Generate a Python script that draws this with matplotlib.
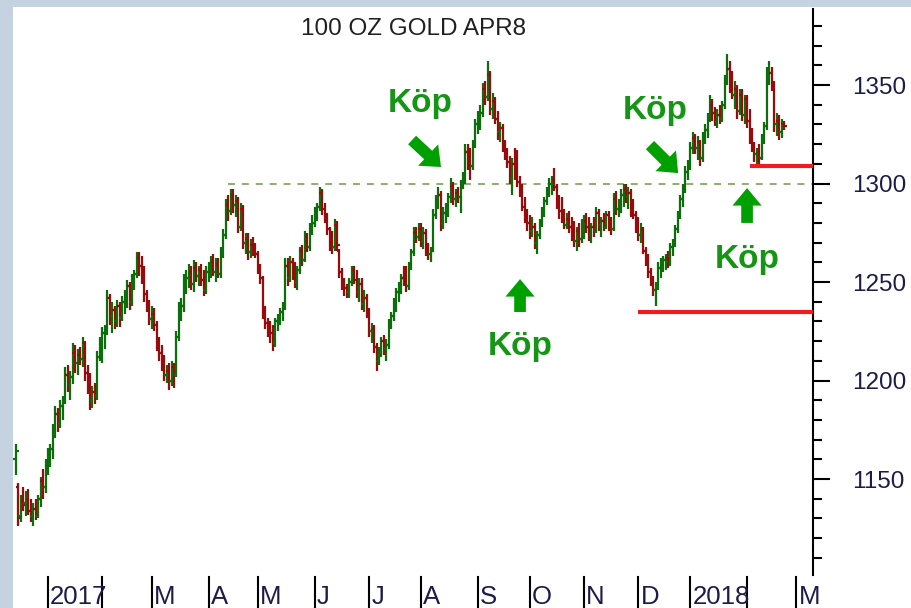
import numpy as np
import pandas as pd
import matplotlib
matplotlib.use("Agg")
import matplotlib.pyplot as plt
import matplotlib.transforms as mtransforms
from matplotlib.collections import LineCollection
from matplotlib.patches import Rectangle
from matplotlib.ticker import MultipleLocator

plt.rcParams["font.family"] = ["Liberation Sans", "DejaVu Sans"]
plt.rcParams["lines.scale_dashes"] = False

title = "100 OZ GOLD APR8"
first_day = "2016-12-14"
axis_last_day = "2018-03-01"

# daily bars, month by month (Dec 2016 .. Feb 2018)
opens = [
    1160, 1146, 1131, 1139, 1138, 1140, 1134, 1131, 1135, 1131, 1140, 1149, 1146,
    1158, 1163, 1165, 1175, 1183, 1178, 1187, 1189, 1203, 1198, 1202, 1214, 1209, 1213, 1211, 1219, 1204, 1198, 1190, 1194, 1192, 1212,
    1219, 1224, 1226, 1242, 1233, 1236, 1230, 1238, 1232, 1240, 1243, 1248, 1240, 1251, 1254, 1262, 1258, 1255, 1244, 1238,
    1231, 1234, 1228, 1218, 1214, 1209, 1203, 1205, 1200, 1207, 1203, 1222, 1236, 1238, 1250, 1252, 1255, 1249, 1257, 1253, 1256, 1251, 1246,
    1255, 1257, 1260, 1255, 1259, 1254, 1266, 1274, 1289, 1286, 1294, 1289, 1291, 1278, 1287, 1270, 1272, 1265, 1269, 1267,
    1264, 1256, 1252, 1234, 1229, 1226, 1224, 1219, 1230, 1231, 1235, 1238, 1258, 1252, 1260, 1255, 1250, 1256, 1266, 1261, 1273, 1268, 1278,
    1280, 1286, 1288, 1295, 1287, 1283, 1277, 1270, 1268, 1279, 1266, 1255, 1249, 1247, 1245, 1250, 1256, 1251, 1245, 1249, 1239, 1242,
    1235, 1225, 1226, 1217, 1210, 1213, 1220, 1216, 1218, 1229, 1233, 1240, 1245, 1248, 1252, 1251, 1248, 1258, 1265, 1275, 1273,
    1277, 1271, 1275, 1266, 1264, 1266, 1284, 1291, 1294, 1280, 1285, 1286, 1293, 1299, 1292, 1295, 1293, 1300, 1302, 1316, 1314, 1309, 1320,
    1330, 1334, 1336, 1348, 1344, 1355, 1338, 1342, 1333, 1326, 1328, 1319, 1316, 1311, 1303, 1310, 1306, 1301, 1297, 1288, 1283,
    1280, 1276, 1278, 1270, 1274, 1280, 1286, 1291, 1296, 1300, 1302, 1298, 1290, 1286, 1283, 1279, 1282, 1278, 1275, 1271, 1276, 1272,
    1279, 1281, 1278, 1274, 1278, 1276, 1285, 1279, 1281, 1278, 1284, 1280, 1277, 1292, 1287, 1290, 1294, 1297, 1293, 1295, 1286, 1284,
    1278, 1274, 1277, 1266, 1261, 1255, 1251, 1246, 1248, 1257, 1259, 1261, 1262, 1260, 1268, 1270, 1277, 1284, 1292, 1297, 1306,
    1309, 1318, 1323, 1318, 1321, 1313, 1324, 1327, 1333, 1340, 1336, 1331, 1335, 1333, 1340, 1352, 1358, 1349, 1345, 1348, 1337, 1345, 1335,
    1343, 1332, 1323, 1319, 1315, 1316, 1313, 1322, 1329, 1355, 1356, 1350, 1330, 1332, 1326, 1330,
]
highs = [
    1168, 1148, 1142, 1146, 1144, 1145, 1140, 1138, 1140, 1142, 1151, 1155, 1160,
    1166, 1168, 1178, 1187, 1186, 1190, 1192, 1207, 1208, 1205, 1219, 1218, 1216, 1217, 1222, 1220, 1208, 1204, 1197, 1199, 1215, 1222,
    1227, 1228, 1246, 1244, 1240, 1238, 1241, 1240, 1243, 1246, 1251, 1250, 1254, 1256, 1265, 1265, 1263, 1258, 1246, 1241,
    1238, 1237, 1230, 1222, 1218, 1213, 1208, 1209, 1210, 1209, 1225, 1240, 1242, 1254, 1256, 1259, 1258, 1261, 1260, 1258, 1259, 1256, 1258,
    1260, 1263, 1264, 1262, 1262, 1268, 1277, 1292, 1294, 1297, 1297, 1294, 1293, 1290, 1289, 1275, 1275, 1272, 1273, 1270,
    1266, 1259, 1253, 1238, 1232, 1230, 1228, 1232, 1234, 1237, 1240, 1262, 1262, 1263, 1262, 1260, 1258, 1268, 1269, 1276, 1275, 1280, 1284,
    1288, 1290, 1298, 1297, 1290, 1285, 1278, 1276, 1282, 1281, 1267, 1257, 1252, 1249, 1252, 1258, 1258, 1256, 1252, 1252, 1246, 1244,
    1237, 1229, 1228, 1219, 1217, 1222, 1223, 1221, 1231, 1235, 1242, 1247, 1250, 1254, 1258, 1258, 1260, 1267, 1278, 1278, 1280,
    1280, 1278, 1277, 1270, 1268, 1287, 1294, 1298, 1296, 1288, 1290, 1295, 1303, 1301, 1297, 1298, 1302, 1306, 1320, 1320, 1318, 1322, 1333,
    1337, 1340, 1351, 1352, 1362, 1357, 1346, 1344, 1337, 1331, 1330, 1322, 1318, 1314, 1313, 1318, 1317, 1304, 1300, 1293, 1287,
    1284, 1283, 1280, 1276, 1282, 1288, 1293, 1298, 1303, 1304, 1308, 1300, 1294, 1293, 1287, 1285, 1286, 1283, 1281, 1278, 1280, 1282,
    1284, 1285, 1283, 1280, 1283, 1288, 1287, 1283, 1285, 1286, 1286, 1283, 1295, 1296, 1292, 1297, 1300, 1300, 1298, 1297, 1292, 1286,
    1283, 1280, 1278, 1268, 1264, 1257, 1253, 1250, 1260, 1262, 1263, 1264, 1266, 1270, 1272, 1279, 1286, 1294, 1300, 1309, 1312,
    1321, 1326, 1325, 1324, 1322, 1326, 1330, 1336, 1345, 1343, 1339, 1338, 1340, 1342, 1355, 1366, 1362, 1357, 1352, 1350, 1348, 1348, 1345,
    1345, 1338, 1328, 1321, 1318, 1320, 1325, 1331, 1359, 1362, 1359, 1352, 1336, 1335, 1333, 1332,
]
lows = [
    1152, 1126, 1128, 1134, 1131, 1132, 1128, 1126, 1129, 1130, 1136, 1140, 1143,
    1152, 1156, 1160, 1171, 1174, 1176, 1180, 1188, 1194, 1190, 1198, 1204, 1203, 1208, 1207, 1200, 1193, 1185, 1186, 1188, 1190, 1210,
    1209, 1216, 1223, 1228, 1224, 1226, 1227, 1227, 1230, 1234, 1237, 1236, 1238, 1246, 1252, 1253, 1249, 1240, 1235, 1228,
    1226, 1225, 1215, 1210, 1205, 1200, 1199, 1195, 1197, 1196, 1202, 1220, 1230, 1235, 1244, 1247, 1246, 1245, 1250, 1248, 1248, 1243, 1244,
    1250, 1252, 1253, 1250, 1252, 1252, 1262, 1272, 1281, 1284, 1285, 1283, 1275, 1276, 1267, 1264, 1261, 1262, 1263, 1262,
    1254, 1249, 1231, 1226, 1222, 1219, 1215, 1217, 1225, 1228, 1230, 1236, 1248, 1250, 1251, 1247, 1246, 1254, 1258, 1260, 1265, 1266, 1274,
    1278, 1281, 1286, 1284, 1280, 1274, 1266, 1264, 1266, 1266, 1252, 1246, 1243, 1242, 1242, 1248, 1249, 1242, 1240, 1236, 1235, 1232,
    1222, 1219, 1214, 1205, 1208, 1212, 1213, 1210, 1216, 1226, 1230, 1235, 1240, 1244, 1248, 1245, 1246, 1256, 1263, 1270, 1271,
    1268, 1267, 1263, 1261, 1260, 1265, 1282, 1287, 1276, 1277, 1280, 1283, 1290, 1289, 1288, 1290, 1285, 1297, 1300, 1307, 1302, 1307, 1318,
    1325, 1327, 1334, 1340, 1342, 1335, 1333, 1330, 1322, 1321, 1316, 1312, 1308, 1300, 1294, 1302, 1298, 1293, 1286, 1280, 1276,
    1272, 1273, 1267, 1264, 1272, 1278, 1283, 1289, 1293, 1294, 1296, 1287, 1282, 1280, 1277, 1277, 1275, 1271, 1268, 1266, 1268, 1270,
    1272, 1275, 1271, 1270, 1273, 1275, 1276, 1273, 1276, 1277, 1276, 1274, 1276, 1284, 1283, 1285, 1288, 1290, 1287, 1283, 1282, 1275,
    1271, 1270, 1264, 1258, 1252, 1248, 1243, 1238, 1246, 1252, 1255, 1256, 1257, 1258, 1263, 1268, 1275, 1282, 1288, 1295, 1302,
    1307, 1315, 1315, 1312, 1309, 1311, 1320, 1323, 1331, 1332, 1329, 1328, 1330, 1331, 1338, 1350, 1346, 1343, 1338, 1333, 1335, 1332, 1330,
    1328, 1320, 1316, 1311, 1308, 1310, 1312, 1320, 1327, 1350, 1347, 1326, 1324, 1322, 1323, 1327,
]
closes = [
    1164, 1130, 1139, 1137, 1140, 1134, 1131, 1135, 1131, 1140, 1149, 1146, 1158,
    1163, 1165, 1175, 1183, 1178, 1187, 1189, 1203, 1198, 1202, 1214, 1209, 1213, 1211, 1219, 1204, 1198, 1190, 1194, 1192, 1212, 1219,
    1224, 1226, 1242, 1233, 1236, 1230, 1238, 1232, 1240, 1243, 1248, 1240, 1251, 1254, 1262, 1258, 1255, 1244, 1238, 1231,
    1234, 1228, 1218, 1214, 1209, 1203, 1205, 1200, 1207, 1203, 1222, 1236, 1238, 1250, 1252, 1255, 1249, 1257, 1253, 1256, 1251, 1246, 1255,
    1257, 1260, 1255, 1259, 1254, 1266, 1274, 1289, 1286, 1294, 1289, 1291, 1278, 1287, 1270, 1272, 1265, 1269, 1267, 1264,
    1256, 1252, 1234, 1229, 1226, 1224, 1219, 1230, 1231, 1235, 1238, 1258, 1252, 1260, 1255, 1250, 1256, 1266, 1261, 1273, 1268, 1278, 1280,
    1286, 1288, 1295, 1287, 1283, 1277, 1270, 1268, 1279, 1269, 1255, 1249, 1247, 1245, 1250, 1256, 1251, 1245, 1249, 1239, 1242, 1235,
    1225, 1226, 1217, 1210, 1213, 1220, 1216, 1218, 1229, 1233, 1240, 1245, 1248, 1252, 1251, 1248, 1258, 1265, 1275, 1273, 1277,
    1271, 1275, 1266, 1264, 1266, 1284, 1291, 1294, 1280, 1285, 1286, 1293, 1299, 1292, 1295, 1293, 1300, 1302, 1316, 1314, 1309, 1320, 1330,
    1334, 1336, 1348, 1344, 1355, 1338, 1342, 1333, 1326, 1328, 1319, 1316, 1311, 1303, 1310, 1306, 1301, 1297, 1288, 1283, 1280,
    1276, 1278, 1270, 1274, 1280, 1286, 1291, 1296, 1300, 1302, 1298, 1290, 1286, 1283, 1279, 1282, 1278, 1275, 1271, 1276, 1272, 1279,
    1281, 1278, 1274, 1278, 1276, 1285, 1279, 1281, 1278, 1284, 1280, 1277, 1292, 1287, 1290, 1294, 1297, 1293, 1295, 1286, 1284, 1278,
    1274, 1277, 1266, 1261, 1255, 1251, 1246, 1248, 1257, 1259, 1261, 1262, 1260, 1268, 1270, 1277, 1284, 1292, 1297, 1306, 1309,
    1318, 1323, 1318, 1321, 1313, 1324, 1327, 1333, 1340, 1336, 1331, 1335, 1333, 1340, 1352, 1358, 1349, 1345, 1348, 1337, 1345, 1335, 1343,
    1332, 1323, 1319, 1315, 1316, 1313, 1322, 1329, 1355, 1356, 1350, 1330, 1332, 1326, 1330, 1329,
]

month_labels = ["2017", "", "M", "A", "M", "J", "J", "A", "S", "O", "N", "D", "2018", "", "M"]

# horizontal marker lines: level, start day
support_level, support_from = 1300, "2017-04-13"
red_levels = [1235, 1309]
red_from = ["2017-12-01", "2018-02-02"]

# "Köp" signals: text centre and arrow (tail -> tip), as (bar index, price)
kop_text = [(163.6, 1340.4), (204.1, 1217.5), (258.7, 1337.3), (296.0, 1261.2)]
kop_tail = [(160.4, 1322.1), (204.1, 1234.8), (256.7, 1319.5), (296.0, 1280.0)]
kop_tip = [(172.1, 1308.4), (204.1, 1251.5), (268.1, 1305.3), (296.0, 1297.7)]

GREEN = "#0b6e0b"
RED = "#990b0b"
LABEL = "#1c1c48"

days = pd.bdate_range(first_day, axis_last_day)
n = len(closes)
idx = np.arange(n)
month_start = [i for i in range(1, len(days)) if days[i].month != days[i - 1].month]

fig = plt.figure(figsize=(9.12, 6.08), dpi=100, facecolor="#c5d2df")
fig.add_artist(Rectangle((13 / 912, 0), 1, 601 / 608, transform=fig.transFigure,
                         facecolor="white", edgecolor="none", zorder=-10))
ax = fig.add_axes([0.01425, 0.0543, 0.8772, 0.9309])
ax.set_facecolor("none")
x0, x1 = -1.17, 322.7
ax.set_xlim(x0, x1)
ax.set_ylim(1101.3, 1388.6)

# OHLC bars
segs, cols = [], []
for i in idx:
    o, h, l, c = opens[i], highs[i], lows[i], closes[i]
    col = GREEN if c >= o else RED
    segs += [[(i, l), (i, h)], [(i - 1.1, o), (i, o)], [(i, c), (i + 1.1, c)]]
    cols += [col] * 3
ax.add_collection(LineCollection(segs, colors=cols, linewidths=1.6, capstyle="butt", zorder=3))

# reference lines
s0 = days.get_loc(pd.Timestamp(support_from))
ax.plot([s0, x1], [support_level, support_level], color="#7aa05a", lw=1.2,
        dashes=(5, 5), zorder=2)
for lvl, d in zip(red_levels, red_from):
    r0 = days.get_loc(pd.Timestamp(d))
    ax.plot([r0, x1], [lvl, lvl], color="#ee1c1c", lw=3, solid_capstyle="butt", zorder=4)

# signals
for (tx, ty), tail, tip in zip(kop_text, kop_tail, kop_tip):
    ax.text(tx, ty, "Köp", ha="center", va="center", fontsize=24, fontweight="bold",
            color="#149614", zorder=5)
    ax.annotate("", xy=tip, xytext=tail,
                arrowprops=dict(arrowstyle="simple,head_length=0.9,head_width=1.5,tail_width=0.6",
                                fc="#00a000", ec="none", shrinkA=0, shrinkB=0,
                                mutation_scale=14), zorder=5)

# right price axis
for s in ["top", "left", "bottom"]:
    ax.spines[s].set_visible(False)
ax.spines["right"].set_linewidth(1.5)
ax.yaxis.tick_right()
ax.yaxis.set_major_locator(MultipleLocator(50))
ax.yaxis.set_minor_locator(MultipleLocator(10))
ax.set_yticks(np.arange(1150, 1351, 50))
ax.tick_params(axis="y", which="major", length=12, width=1.5, pad=16, labelsize=17.5,
               labelcolor=LABEL)
ax.tick_params(axis="y", which="minor", length=6.5, width=1.5)
ax.set_xticks([])

# month separators and labels under the axis
trans = mtransforms.blended_transform_factory(ax.transData, ax.transAxes)
for b, lab in zip(month_start, month_labels):
    ax.plot([b, b], [-0.0035, -0.0565], color="black", lw=1.5, transform=trans, clip_on=False)
    if lab:
        ax.text(b + 0.9, -0.052, lab, transform=trans, ha="left", va="baseline",
                fontsize=18.5, color=LABEL, clip_on=False)

fig.text(414 / 912, 1 - 29 / 608, title, ha="center", va="center", fontsize=17.5, color="#202020")

fig.savefig("out.png", dpi=100, facecolor=fig.get_facecolor())
